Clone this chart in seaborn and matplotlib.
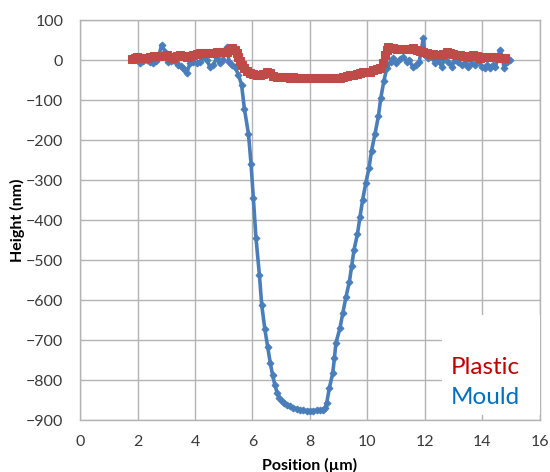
import matplotlib
matplotlib.use("Agg")
import matplotlib.pyplot as plt
import seaborn as sns
import pandas as pd

# Surface profile of the mould (AFM line scan)
mould_x = [2.09, 2.20, 2.32, 2.44, 2.55, 2.64, 2.72, 2.84, 2.96, 3.07, 3.16, 3.25, 3.34, 3.42,
           3.50, 3.57, 3.64, 3.71, 3.83, 3.94, 4.06, 4.17, 4.29, 4.41, 4.52, 4.64, 4.75, 4.87,
           4.96, 5.04, 5.10, 5.19, 5.27, 5.39, 5.51, 5.62, 5.72, 5.86, 5.95, 6.03, 6.12, 6.24,
           6.32, 6.43, 6.53, 6.62, 6.70, 6.78, 6.86, 6.93, 7.01, 7.10, 7.19, 7.30, 7.42, 7.54,
           7.65, 7.77, 7.88, 8.00, 8.12, 8.23, 8.35, 8.45, 8.52, 8.58, 8.67, 8.79, 8.85, 8.90,
           9.04, 9.14, 9.25, 9.37, 9.45, 9.53, 9.65, 9.74, 9.83, 9.94, 10.05, 10.14, 10.26,
           10.38, 10.46, 10.57, 10.67, 10.81, 10.90, 11.00, 11.13, 11.25, 11.36, 11.45, 11.57,
           11.69, 11.80, 11.94, 12.00, 12.12, 12.23, 12.35, 12.46, 12.58, 12.70, 12.81, 12.93,
           13.04, 13.16, 13.27, 13.39, 13.51, 13.62, 13.74, 13.86, 13.97, 14.09, 14.17, 14.26,
           14.36, 14.45, 14.61, 14.70, 14.75, 14.84, 14.96]
mould_y = [-7, -3, 0, -4, -7, -2, 4, 38, 21, -4, -2, 0, -6, -12,
           -16, -21, -26, -32, -8, -4, -8, -4, 8, 0, -17, -12, 4, -8,
           0, 21, 33, -5, -12, -17, -37, -62, -123, -185, -260, -346, -444, -537,
           -612, -673, -718, -758, -788, -813, -833, -845, -852, -858, -862, -866, -869, -872,
           -874, -876, -877, -877, -877, -876, -875, -874, -871, -858, -821, -783, -745, -708,
           -671, -633, -593, -554, -515, -475, -435, -392, -350, -308, -271, -227, -185,
           -140, -96, -52, -21, -4, 4, -8, 2, 8, -4, 0, -17,
           -12, -4, 54, 12, 4, 8, -8, 0, -17, 8, -4, -17,
           0, -4, -12, -8, -17, -8, -12, 0, -17, -21, -12, -21,
           -12, -17, 25, 4, -21, -4, 0]

# Surface profile of the moulded plastic replica
plastic_x = [1.80, 1.90, 1.97, 2.10, 2.20, 2.32, 2.45, 2.56, 2.67, 2.80, 2.90, 3.01, 3.12, 3.25,
             3.36, 3.48, 3.60, 3.71, 3.83, 3.94, 4.06, 4.17, 4.29, 4.41, 4.52, 4.64, 4.75, 4.87,
             4.98, 5.10, 5.20, 5.28, 5.39, 5.45, 5.51, 5.57, 5.62, 5.70, 5.80, 5.90, 6.03, 6.14,
             6.26, 6.38, 6.49, 6.61, 6.72, 6.84, 6.96, 7.07, 7.19, 7.30, 7.42, 7.54, 7.65, 7.77,
             7.88, 8.00, 8.12, 8.23, 8.35, 8.47, 8.59, 8.70, 8.82, 8.93, 9.05, 9.16, 9.28, 9.39,
             9.51, 9.62, 9.74, 9.86, 9.97, 10.09, 10.20, 10.32, 10.43, 10.55, 10.61, 10.67, 10.72,
             10.81, 10.90, 11.02, 11.13, 11.25, 11.36, 11.48, 11.60, 11.71, 11.83, 11.94, 12.06,
             12.17, 12.29, 12.40, 12.52, 12.63, 12.75, 12.87, 12.99, 13.10, 13.22, 13.33, 13.45,
             13.56, 13.68, 13.80, 13.91, 14.03, 14.14, 14.26, 14.38, 14.49, 14.61, 14.70, 14.78]
plastic_y = [2, 6, 8, 6, 5, 4, 7, 9, 10, 9, 11, 12, 8, 4,
             9, 12, 10, 8, 10, 12, 15, 17, 17, 17, 18, 18, 19, 19,
             20, 21, 25, 29, 25, 18, 8, -2, -12, -20, -27, -32, -35, -38,
             -37, -35, -29, -33, -40, -42, -42, -43, -43, -44, -43, -44, -44, -45,
             -45, -45, -45, -45, -45, -45, -45, -45, -44, -44, -44, -42, -40, -37,
             -38, -35, -33, -31, -30, -29, -25, -23, -21, -8, 12, 25, 32,
             30, 29, 28, 28, 27, 27, 28, 29, 26, 23, 20, 17,
             16, 15, 13, 12, 16, 21, 18, 15, 13, 12, 10, 8,
             10, 12, 9, 6, 7, 8, 8, 8, 7, 6, 5, 4]

series_names = ["Plastic", "Mould"]
x_ticks = [0, 2, 4, 6, 8, 10, 12, 14, 16]
y_ticks = [100, 0, -100, -200, -300, -400, -500, -600, -700, -800, -900]

mould_df = pd.DataFrame({"Position": mould_x, "Height": mould_y})
plastic_df = pd.DataFrame({"Position": plastic_x, "Height": plastic_y})

sns.set_style("white")
plt.rcParams["font.family"] = ["Lato", "DejaVu Sans"]

blue = "#4A7EBB"
red = "#BE4B48"
grid_c = "#B3B3B3"

fig = plt.figure(figsize=(5.5, 4.72), dpi=100)
ax = fig.add_axes([80 / 550, 52 / 472, 460 / 550, 400 / 472])

sns.lineplot(data=mould_df, x="Position", y="Height", ax=ax, sort=False,
             color=blue, linewidth=2.6, marker="D", markersize=3.5,
             markeredgecolor=blue, markerfacecolor=blue, zorder=3)
sns.lineplot(data=plastic_df, x="Position", y="Height", ax=ax, sort=False,
             color=red, linewidth=3, marker="s", markersize=5.5,
             markeredgecolor=red, markerfacecolor=red, zorder=4)

ax.set_xlim(0, 16)
ax.set_ylim(-900, 100)
ax.set_xticks(x_ticks)
ax.set_yticks(y_ticks)
ax.grid(True, color=grid_c, linewidth=1)
ax.set_axisbelow(True)
for s in ax.spines.values():
    s.set_color(grid_c)
    s.set_linewidth(1)
ax.tick_params(axis="both", length=0, labelsize=11.5, labelcolor="#3A3A3A")
ax.tick_params(axis="y", pad=12)
ax.tick_params(axis="x", pad=11)

ax.set_xlabel("Position (µm)", fontsize=11.5, fontweight="bold", color="black", labelpad=6)
ax.set_ylabel("Height (nm)", fontsize=11.5, fontweight="bold", color="black", labelpad=1)

# Series key as coloured words on a white panel
ax.add_patch(plt.Rectangle((12.6, -888), 3.4, 250, facecolor="white",
                           edgecolor="none", zorder=5))
ax.text(12.9, -770, series_names[0], color="#C00000", fontsize=17.5,
        va="center", ha="left", zorder=6)
ax.text(12.9, -845, series_names[1], color="#0070C0", fontsize=17.5,
        va="center", ha="left", zorder=6)

fig.savefig("out.png", dpi=100)
